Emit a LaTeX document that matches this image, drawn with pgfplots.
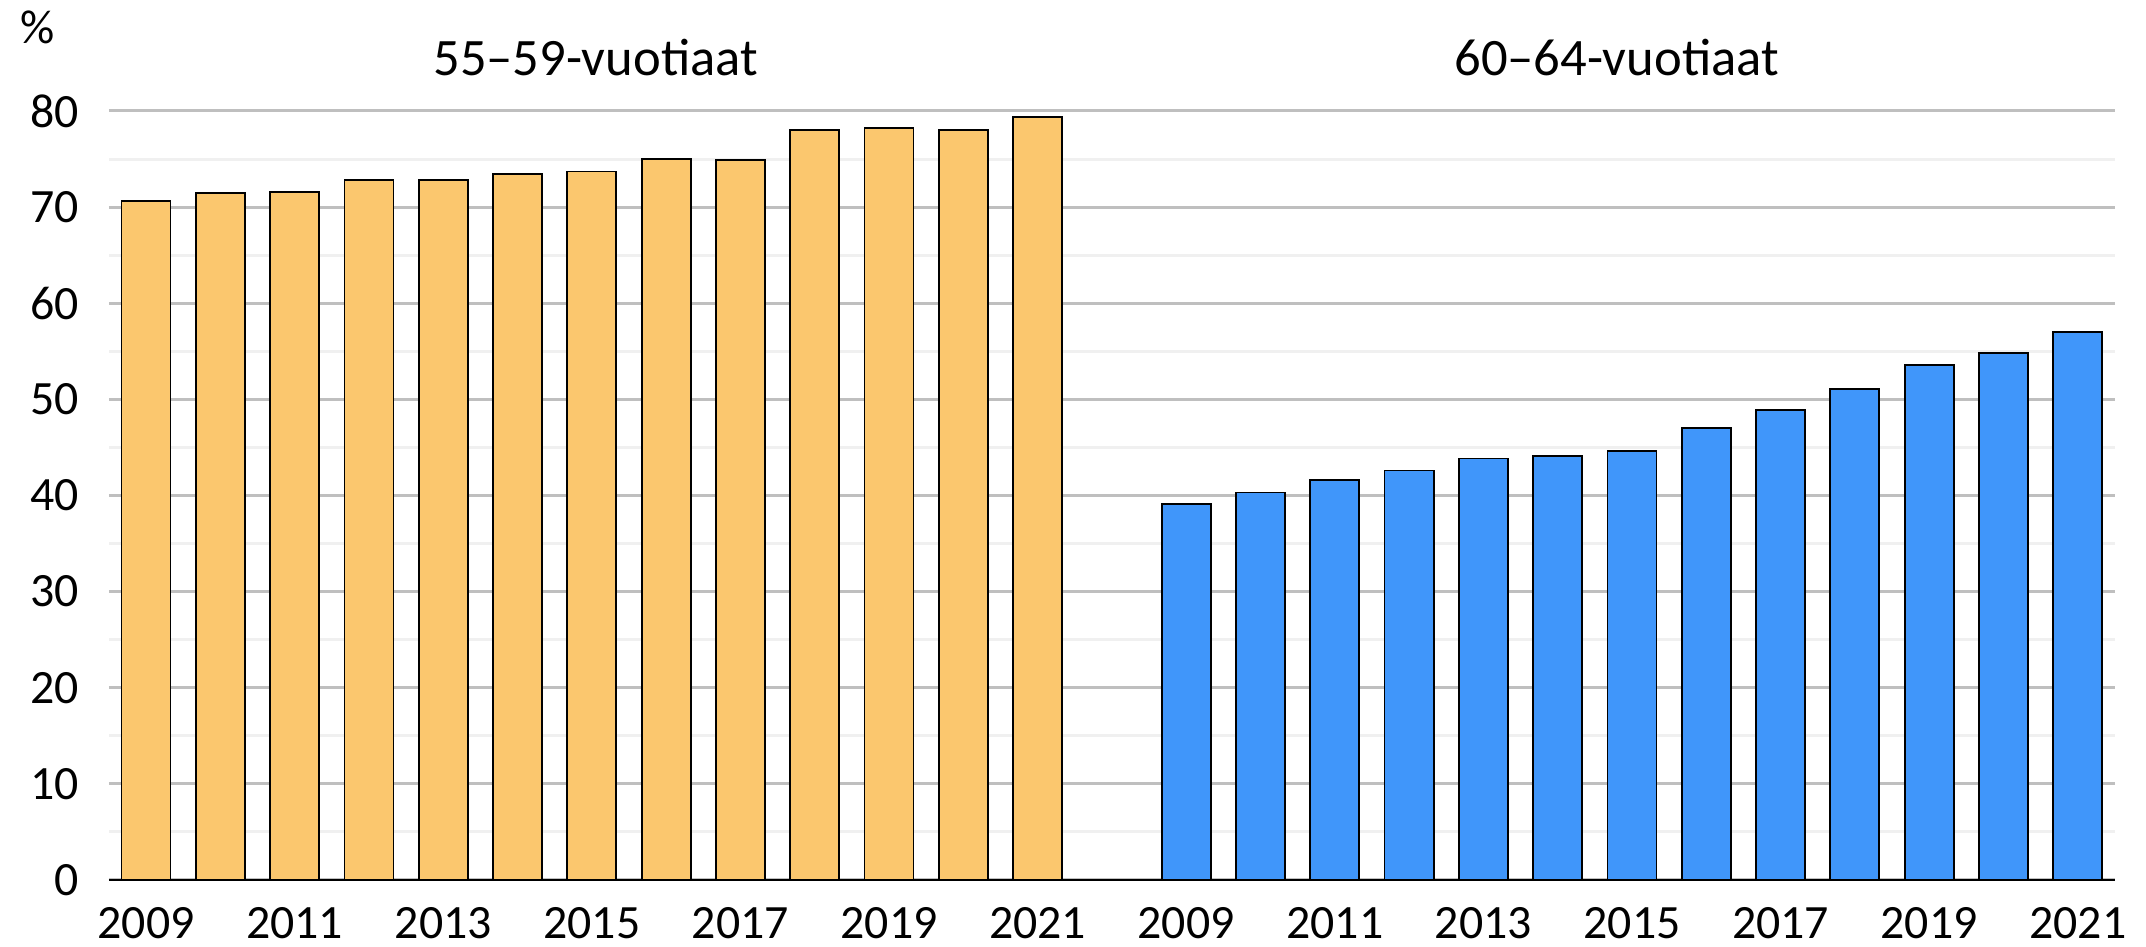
\documentclass[border=0pt]{standalone}
\usepackage{pgfplots}
\pgfplotsset{compat=1.18}
\usepackage{fontspec}
\setmainfont{Carlito}
\definecolor{barorange}{HTML}{FBC76E}
\definecolor{barblue}{HTML}{4096FA}
\definecolor{majgrid}{HTML}{BFBFBF}
\definecolor{mingrid}{HTML}{F0F0F0}
\begin{document}
\begin{tikzpicture}
\begin{axis}[
  width=501.5bp, height=192.25bp, scale only axis,
  xmin=-0.5, xmax=26.5, ymin=0, ymax=80,
  axis x line=bottom, axis y line=left,
  axis line style={-},
  y axis line style={draw=none},
  x axis line style={black, line width=0.6bp},
  ytick={0,10,...,80}, minor ytick={5,15,...,75},
  ymajorgrids, yminorgrids,
  major grid style={majgrid, line width=0.75bp},
  minor grid style={mingrid, line width=0.75bp},
  major tick length=0pt, minor tick length=0pt,
  xtick={0,2,4,6,8,10,12,14,16,18,20,22,24,26},
  xticklabels={2009,2011,2013,2015,2017,2019,2021,2009,2011,2013,2015,2017,2019,2021},
  /pgf/number format/assume math mode=true,
  tick label style={font=\fontsize{12}{14}\selectfont},
  yticklabel style={inner sep=0pt, anchor=east, xshift=-7.25bp},
  xticklabel style={inner sep=0pt, anchor=north, yshift=-6.8bp},
  clip=false,
  ybar, bar width=0.66, bar shift=0pt,
]
\addplot[fill=barorange, draw=black, line width=0.45bp] coordinates {
(0,70.6) (1,71.5) (2,71.6) (3,72.85) (4,72.85) (5,73.4) (6,73.7) (7,75.0) (8,74.9) (9,78.0) (10,78.2) (11,78.0) (12,79.4)};
\addplot[fill=barblue, draw=black, line width=0.45bp] coordinates {
(14,39.1) (15,40.3) (16,41.6) (17,42.6) (18,43.85) (19,44.1) (20,44.6) (21,47.0) (22,48.9) (23,51.1) (24,53.6) (25,54.8) (26,57.0)};
\node[font=\fontsize{13.2}{15}\selectfont, anchor=center] at (rel axis cs:0.2426,1.070) {55–59-vuotiaat};
\node[font=\fontsize{13.2}{15}\selectfont, anchor=center] at (rel axis cs:0.7516,1.070) {60–64-vuotiaat};
\node[font=\fontsize{12}{14}\selectfont, anchor=center] at (rel axis cs:-0.0355,1.109) {\%};
\coordinate (bl) at (rel axis cs:-0.0543,-0.0871);
\coordinate (tr) at (rel axis cs:1.0155,1.1443);
\end{axis}
\pgfresetboundingbox
\path (bl) rectangle (tr);
\end{tikzpicture}
\end{document}
